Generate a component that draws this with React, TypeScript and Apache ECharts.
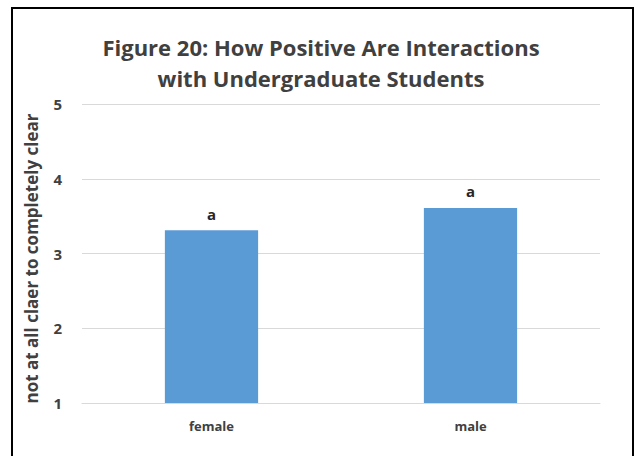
import React, { useEffect, useRef } from "react";
import * as echarts from "echarts";

const categories = ["female", "male"];
const values = [3.31, 3.61];
const barLabels = ["a", "a"];
const titleLines = ["Figure 20: How Positive Are Interactions", "with Undergraduate Students"];
const yAxisName = "not at all claer to completely clear";

export default function App() {
  const ref = useRef<HTMLDivElement>(null);
  useEffect(() => {
    document.body.style.margin = "0";
    const chart = echarts.init(ref.current!, null, { renderer: "svg" });
    const font = "'Open Sans', sans-serif";
    chart.setOption({
      animation: false,
      backgroundColor: "#ffffff",
      title: {
        text: titleLines.join("\n"),
        left: "center",
        top: 26,
        textStyle: { fontFamily: font, fontWeight: "bold", fontSize: 22, color: "#404040", lineHeight: 31 },
      },
      grid: { left: 82, right: 42, top: 104, bottom: 53 },
      xAxis: {
        type: "category",
        data: categories,
        axisLine: { lineStyle: { color: "#d9d9d9" } },
        axisTick: { show: false },
        axisLabel: { fontFamily: font, fontWeight: "bold", fontSize: 13, color: "#404040", margin: 16 },
      },
      yAxis: {
        type: "value",
        min: 1,
        max: 5,
        interval: 1,
        name: yAxisName,
        nameLocation: "middle",
        nameGap: 42,
        nameTextStyle: { fontFamily: font, fontWeight: "bold", fontSize: 17, color: "#404040", padding: [0, 10, 0, 0] },
        axisLine: { show: false },
        axisTick: { show: false },
        axisLabel: { fontFamily: font, fontWeight: "bold", fontSize: 15, color: "#404040", margin: 20 },
        splitLine: { lineStyle: { color: "#d9d9d9" } },
      },
      series: [
        {
          type: "bar",
          data: values,
          barWidth: "36%",
          itemStyle: { color: "#5B9BD5" },
          label: {
            show: true,
            position: "top",
            distance: 9,
            formatter: (p: any) => barLabels[p.dataIndex],
            fontFamily: font,
            fontWeight: "bold",
            fontSize: 15,
            color: "#262626",
          },
        },
      ],
      graphic: [
        {
          type: "rect",
          shape: { x: 12, y: 8, width: 621, height: 470 },
          style: { fill: "none", stroke: "#000000", lineWidth: 2 },
          silent: true,
        },
      ],
    });
    return () => chart.dispose();
  }, []);
  return <div ref={ref} style={{ position: "fixed", left: 0, top: 0, width: 642, height: 456 }} />;
}
